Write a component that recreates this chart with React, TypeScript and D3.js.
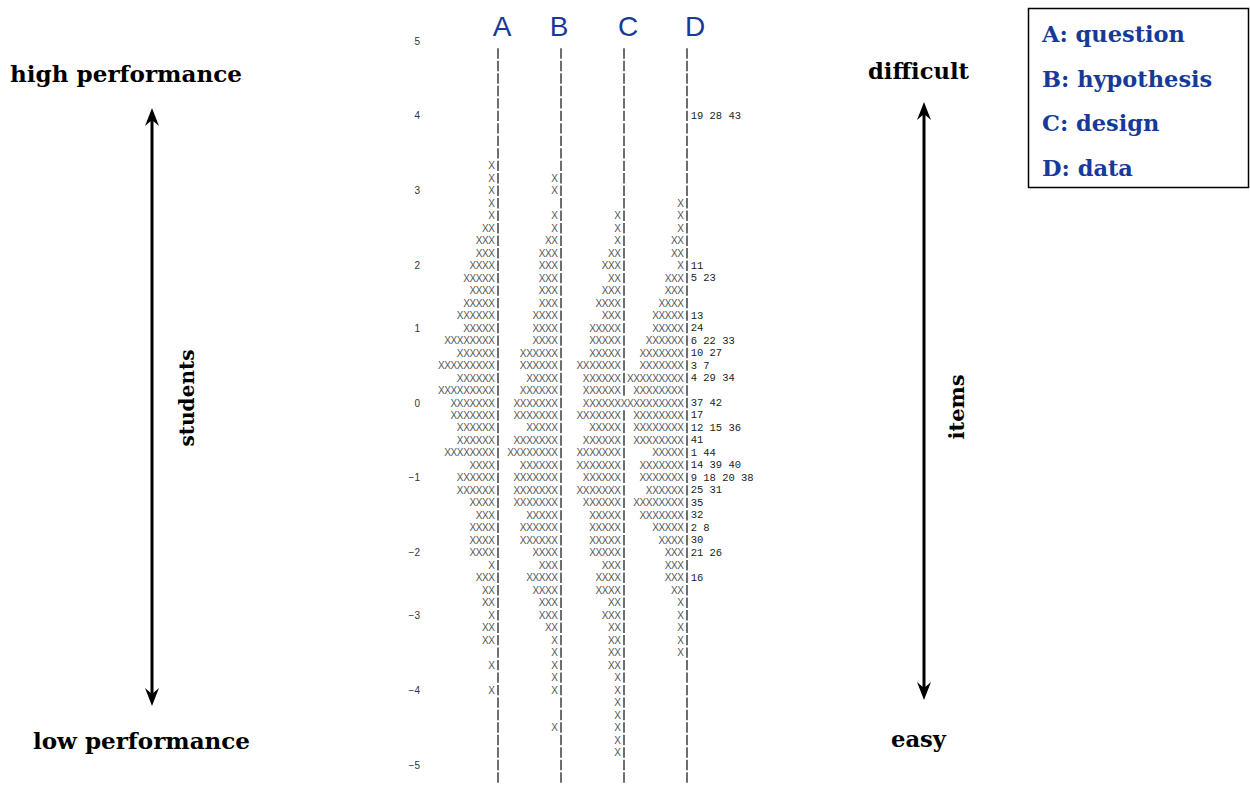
import React from 'react';
import * as d3 from 'd3';

const W = 1250;
const H = 785;

// Column headers (domains) and legend
const columns = ['A', 'B', 'C', 'D'];
const legendLabels = ['A: question', 'B: hypothesis', 'C: design', 'D: data'];

// Logit tick labels and the text-row on which they sit
const tickLogits = [5, 4, 3, 2, 1, 0, -1, -2, -3, -4, -5];
const tickRows = [0, 6, 12, 18, 23, 29, 35, 41, 46, 52, 58];

// Number of "X" (students) per row, rows 0..58 from top (logit 5) to bottom (logit -5)
const countsA = [
  0, 0, 0, 0, 0, 0, 0, 0, 0, 0,
  1, 1, 1, 1, 1, 2, 3, 3, 4, 5,
  4, 5, 6, 5, 8, 6, 9, 6, 9, 7,
  7, 6, 6, 8, 4, 6, 6, 4, 3, 4,
  4, 4, 1, 3, 2, 2, 1, 2, 2, 0,
  1, 0, 1, 0, 0, 0, 0, 0, 0,
];
const countsB = [
  0, 0, 0, 0, 0, 0, 0, 0, 0, 0,
  0, 1, 1, 0, 1, 1, 2, 3, 3, 3,
  3, 3, 4, 4, 4, 6, 6, 5, 6, 7,
  7, 5, 7, 8, 6, 7, 7, 7, 5, 6,
  6, 4, 3, 5, 4, 3, 3, 2, 1, 1,
  1, 1, 1, 0, 0, 1, 0, 0, 0,
];
const countsC = [
  0, 0, 0, 0, 0, 0, 0, 0, 0, 0,
  0, 0, 0, 0, 1, 1, 1, 2, 3, 2,
  3, 4, 3, 5, 5, 5, 7, 6, 6, 6,
  7, 5, 6, 7, 7, 6, 7, 6, 5, 5,
  5, 5, 3, 4, 4, 2, 3, 2, 2, 2,
  2, 1, 1, 1, 1, 1, 1, 1, 0,
];
const countsD = [
  0, 0, 0, 0, 0, 0, 0, 0, 0, 0,
  0, 0, 0, 1, 1, 1, 2, 2, 1, 3,
  3, 4, 5, 5, 6, 7, 7, 9, 8, 10,
  8, 8, 8, 5, 7, 7, 6, 8, 7, 5,
  4, 3, 3, 3, 2, 1, 1, 1, 1, 1,
  0, 0, 0, 0, 0, 0, 0, 0, 0,
];

// Item numbers printed to the right of the last column
const itemRows = [6, 18, 19, 22, 23, 24, 25, 26, 27, 29, 30, 31, 32, 33, 34, 35, 36, 37, 38, 39, 40, 41, 43];
const itemLabels = [
  '19 28 43', '11', '5 23', '13', '24', '6 22 33', '10 27', '3 7', '4 29 34', '37 42',
  '17', '12 15 36', '41', '1 44', '14 39 40', '9 18 20 38', '25 31', '35', '32', '2 8',
  '30', '21 26', '16',
];

const allCounts = [countsA, countsB, countsC, countsD];
const barChars = [9, 19, 29, 39];

const BLUE = '#173a98';
const SERIF = '"DejaVu Serif", serif';

function DoubleArrow({ x, y1, y2 }: { x: number; y1: number; y2: number }) {
  const hw = 7;
  const hl = 18;
  const notch = 12;
  const top = `M${x},${y1} L${x + hw},${y1 + hl} L${x},${y1 + notch} L${x - hw},${y1 + hl} Z`;
  const bot = `M${x},${y2} L${x + hw},${y2 - hl} L${x},${y2 - notch} L${x - hw},${y2 - hl} Z`;
  return (
    <g>
      <line x1={x} x2={x} y1={y1 + 10} y2={y2 - 10} stroke="#000" strokeWidth={3} />
      <path d={top} fill="#000" />
      <path d={bot} fill="#000" />
    </g>
  );
}

export default function App() {
  const yRow = d3.scaleLinear().domain([0, 58]).range([41, 765]);
  const xChar = d3.scaleLinear().domain([9, 39]).range([498, 687]);
  const cw = xChar(1) - xChar(0);
  const fmt = d3.format('d');

  const marks: React.ReactNode[] = [];
  allCounts.forEach((counts, c) => {
    counts.forEach((n, k) => {
      for (let j = 1; j <= n; j++) {
        marks.push(
          <text
            key={`x-${c}-${k}-${j}`}
            x={xChar(barChars[c] - j)}
            y={yRow(k)}
            textAnchor="middle"
            dominantBaseline="central"
            fontFamily='"Liberation Sans", Arial, sans-serif'
            fontSize={10}
            fill="#555"
          >
            X
          </text>
        );
      }
    });
  });

  const bars: React.ReactNode[] = [];
  barChars.forEach((bc, c) => {
    for (let k = 1; k <= 59; k++) {
      // skip when the next column's X's overrun this bar
      const next = allCounts[c + 1];
      if (next && k < next.length && next[k] >= 10) continue;
      bars.push(
        <line
          key={`b-${c}-${k}`}
          x1={xChar(bc)}
          x2={xChar(bc)}
          y1={yRow(k) - 5.2}
          y2={yRow(k) + 5.2}
          stroke="#4a4a4a"
          strokeWidth={1.6}
        />
      );
    }
  });

  const headerOffsets = [4, -2, 4, 8];

  return (
    <svg
      width={W}
      height={H}
      style={{ position: 'absolute', left: 0, top: 0, background: '#fff' }}
    >
      <rect x={0} y={0} width={W} height={H} fill="#fff" />

      {/* column headers */}
      {columns.map((c, i) => (
        <text
          key={c}
          x={xChar(barChars[i]) + headerOffsets[i]}
          y={36}
          textAnchor="middle"
          fontFamily='"Liberation Sans", Arial, sans-serif'
          fontSize={28}
          fill={BLUE}
        >
          {c}
        </text>
      ))}

      {/* tick labels */}
      {tickLogits.map((t, i) => (
        <text
          key={`t-${t}`}
          x={420}
          y={yRow(tickRows[i])}
          textAnchor="end"
          dominantBaseline="central"
          fontFamily='"Liberation Sans", Arial, sans-serif'
          fontSize={10}
          fill="#333"
        >
          {fmt(t)}
        </text>
      ))}

      {bars}
      {marks}

      {/* item numbers */}
      {itemRows.map((k, i) => (
        <text
          key={`it-${k}`}
          x={xChar(40) - cw / 2 + 0.5}
          y={yRow(k)}
          dominantBaseline="central"
          fontFamily='"Liberation Mono", "DejaVu Sans Mono", monospace'
          fontSize={10.5}
          fill="#222"
          style={{ whiteSpace: 'pre' }}
        >
          {itemLabels[i]}
        </text>
      ))}

      {/* left side labels */}
      <text x={10} y={82} fontFamily={SERIF} fontWeight="bold" fontSize={23} textLength={232} lengthAdjust="spacingAndGlyphs">
        high performance
      </text>
      <text x={33} y={749} fontFamily={SERIF} fontWeight="bold" fontSize={23} textLength={217} lengthAdjust="spacingAndGlyphs">
        low performance
      </text>
      <DoubleArrow x={152} y1={108} y2={706} />
      <text
        transform="translate(187,398) rotate(-90)"
        textAnchor="middle"
        dominantBaseline="central"
        fontFamily={SERIF}
        fontWeight="bold"
        fontSize={20}
        textLength={97}
        lengthAdjust="spacingAndGlyphs"
      >
        students
      </text>

      {/* right side labels */}
      <text x={868} y={79} fontFamily={SERIF} fontWeight="bold" fontSize={23} textLength={101} lengthAdjust="spacingAndGlyphs">
        difficult
      </text>
      <text x={891} y={747} fontFamily={SERIF} fontWeight="bold" fontSize={23} textLength={55} lengthAdjust="spacingAndGlyphs">
        easy
      </text>
      <DoubleArrow x={924} y1={102} y2={700} />
      <text
        transform="translate(957,407) rotate(-90)"
        textAnchor="middle"
        dominantBaseline="central"
        fontFamily={SERIF}
        fontWeight="bold"
        fontSize={20}
        textLength={65}
        lengthAdjust="spacingAndGlyphs"
      >
        items
      </text>

      {/* legend */}
      <rect x={1028.5} y={8.5} width={220} height={179} fill="#fff" stroke="#000" strokeWidth={1.5} />
      {legendLabels.map((l, i) => (
        <text
          key={l}
          x={1042}
          y={42 + i * 44.7}
          fontFamily={SERIF}
          fontWeight="bold"
          fontSize={22.5}
          fill={BLUE}
        >
          {l}
        </text>
      ))}
    </svg>
  );
}
